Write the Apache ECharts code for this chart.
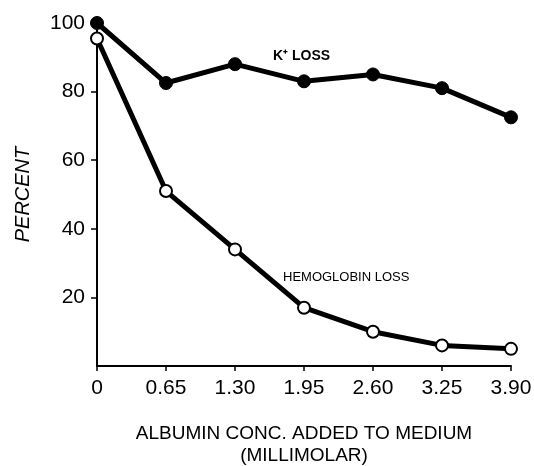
<!DOCTYPE html>
<html>
<head>
<meta charset="utf-8">
<script src="https://cdn.jsdelivr.net/npm/echarts@6/dist/echarts.min.js"></script>
<style>
  html, body { margin: 0; padding: 0; background: #fff; }
  #chart { width: 534px; height: 466px; }
</style>
</head>
<body>
<div id="chart"></div>
<script>
// albumin added (mM) and the two measured losses (%)
var albumin = [0, 0.65, 1.30, 1.95, 2.60, 3.25, 3.90]
var kLoss = [100, 82.5, 88, 83, 85, 81, 72.5]
var hbLoss = [95.5, 51, 34, 17, 10, 6, 5]
var xTicks = ['0', '0.65', '1.30', '1.95', '2.60', '3.25', '3.90']
var yTicks = [20, 40, 60, 80, 100]

var font = 'Liberation Sans'

function pairs(xs, ys) {
  return xs.map(function (x, i) { return [x, ys[i]] })
}

var chart = echarts.init(document.getElementById('chart'))
chart.setOption({
  animation: false,
  backgroundColor: '#fff',
  grid: { left: 97, right: 23, top: 23, bottom: 100, outerBoundsMode: 'none' },
  xAxis: {
    type: 'value',
    min: 0, max: 3.9, interval: 0.65,
    name: 'ALBUMIN CONC. ADDED TO MEDIUM\n(MILLIMOLAR)',
    nameLocation: 'middle',
    nameGap: 57,
    nameTextStyle: { color: '#000', fontFamily: font, fontSize: 19, lineHeight: 22 },
    axisLine: { lineStyle: { color: '#000', width: 2 } },
    axisTick: { show: true, length: 5, lineStyle: { color: '#000', width: 1.5 } },
    splitLine: { show: false },
    axisLabel: {
      color: '#000', fontFamily: font, fontSize: 21, margin: 12,
      formatter: function (v) {
        var i = Math.round(v / 0.65)
        return xTicks[i] || ''
      }
    }
  },
  yAxis: {
    type: 'value',
    min: 0, max: 100, interval: 20,
    name: 'PERCENT',
    nameLocation: 'middle',
    nameGap: 64,
    nameTextStyle: { color: '#000', fontFamily: font, fontSize: 20, fontStyle: 'italic' },
    axisLine: { show: true, lineStyle: { color: '#000', width: 2 } },
    axisTick: { show: true, length: 6, customValues: yTicks, lineStyle: { color: '#000', width: 1.5 } },
    splitLine: { show: false },
    axisLabel: {
      color: '#000', fontFamily: font, fontSize: 21, margin: 12,
      customValues: yTicks
    }
  },
  graphic: [
    { type: 'text', left: 273, top: 49,
      style: { text: 'K⁺ LOSS', fill: '#000', font: 'bold 14px "Liberation Sans"' } },
    { type: 'text', left: 283, top: 271,
      style: { text: 'HEMOGLOBIN LOSS', fill: '#000', font: '13px "Liberation Sans"' } }
  ],
  series: [
    {
      name: 'K+ loss',
      type: 'line',
      data: pairs(albumin, kLoss),
      symbol: 'circle',
      symbolSize: 13,
      lineStyle: { color: '#000', width: 5 },
      itemStyle: { color: '#000', borderColor: '#000', borderWidth: 1 },
      z: 3
    },
    {
      name: 'Hemoglobin loss',
      type: 'line',
      data: pairs(albumin, hbLoss),
      symbol: 'circle',
      symbolSize: 12,
      lineStyle: { color: '#000', width: 5 },
      itemStyle: { color: '#fff', borderColor: '#000', borderWidth: 2 },
      z: 4
    }
  ]
})
</script>
</body>
</html>
